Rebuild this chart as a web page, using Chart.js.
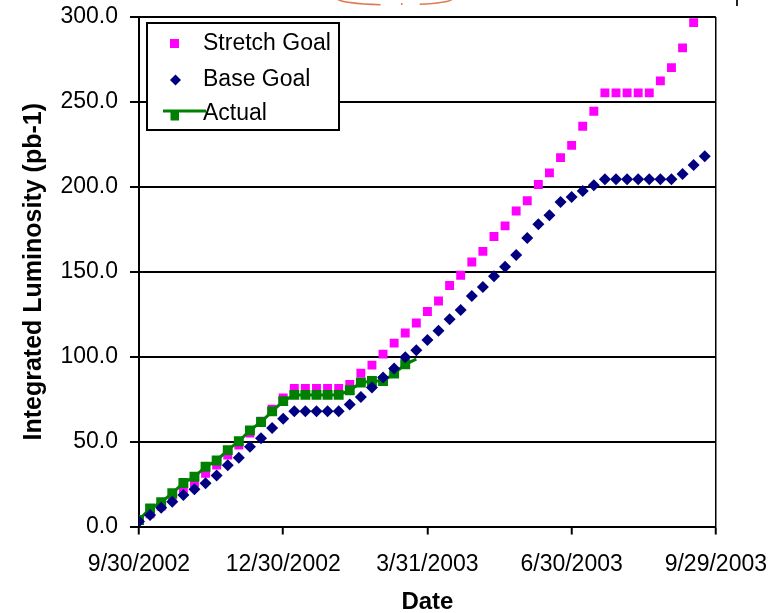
<!DOCTYPE html>
<html>
<head>
<meta charset="utf-8">
<script src="https://cdn.jsdelivr.net/npm/chart.js@4/dist/chart.umd.min.js"></script>
<style>
  html, body { margin: 0; padding: 0; background: #ffffff; }
  #wrap { width: 783px; height: 613px; }
</style>
</head>
<body>
<div id="wrap"><canvas id="c" width="783" height="613"></canvas></div>
<script>
// Weekly reporting dates (Mondays)
const weekDates = [
  '9/30/2002', '10/7/2002', '10/14/2002', '10/21/2002', '10/28/2002', '11/4/2002', '11/11/2002',
  '11/18/2002', '11/25/2002', '12/2/2002', '12/9/2002', '12/16/2002', '12/23/2002', '12/30/2002',
  '1/6/2003', '1/13/2003', '1/20/2003', '1/27/2003', '2/3/2003', '2/10/2003', '2/17/2003',
  '2/24/2003', '3/3/2003', '3/10/2003', '3/17/2003', '3/24/2003', '3/31/2003', '4/7/2003',
  '4/14/2003', '4/21/2003', '4/28/2003', '5/5/2003', '5/12/2003', '5/19/2003', '5/26/2003',
  '6/2/2003', '6/9/2003', '6/16/2003', '6/23/2003', '6/30/2003', '7/7/2003', '7/14/2003',
  '7/21/2003', '7/28/2003', '8/4/2003', '8/11/2003', '8/18/2003', '8/25/2003', '9/1/2003',
  '9/8/2003', '9/15/2003', '9/22/2003'
];

// Integrated luminosity (pb-1), one value per week
const stretchGoal = [
  3.5, 7.5, 12, 16.6, 21.5, 25.8, 31.4, 36.2, 42, 48,
  55, 62, 69, 75.7, 81.3, 81.3, 81.3, 81.3, 81.3, 83.7,
  90.2, 95, 101.5, 108, 113.9, 119.8, 126.6, 132.8, 141.9, 147.9,
  155.7, 162, 170.8, 177, 185.8, 191.8, 201.4, 208.2, 217.2, 224.4,
  235.7, 244.5, 255.3, 255.3, 255.3, 255.3, 255.3, 262.4, 270.2, 281.8,
  296.7
];
const baseGoal = [
  3, 6.8, 11, 14.5, 18.5, 22, 25.4, 30, 36, 40.5,
  47, 52, 58, 63.5, 67.8, 67.8, 67.8, 67.8, 67.8, 71.9,
  76.2, 81.8, 87.7, 93, 99.6, 103.8, 109.8, 115.2, 122, 127.5,
  135.7, 141, 147.4, 152.9, 159.9, 169.9, 178, 183.3, 191, 194,
  197.5, 201, 204.5, 204.5, 204.5, 204.5, 204.5, 204.5, 204.5, 207.5,
  212.8, 218
];
const actual = [
  3.8, 10.7, 14.3, 19.6, 25.6, 29.3, 35.2, 38.9, 45, 50.2,
  56.6, 61.5, 67.8, 73.8, 77.5, 77.5, 77.5, 77.5, 77.5, 80.2,
  84.7, 85.7, 85.7, 90, 95.5, 98.5
];

const tickDates = ['9/30/2002', '12/30/2002', '3/31/2003', '6/30/2003', '9/29/2003'];
const seriesNames = ['Stretch Goal', 'Base Goal', 'Actual'];
const axisTitles = { x: 'Date', y: 'Integrated Luminosity (pb-1)' };

const FONT = "'Liberation Sans', Arial, sans-serif";

// days elapsed since the first week
function toUTC(s) {
  const [m, d, y] = s.split('/').map(Number);
  return Date.UTC(y, m - 1, d);
}
const t0 = toUTC(weekDates[0]);
const dayOf = s => Math.round((toUTC(s) - t0) / 86400000);
const xy = vals => vals.map((v, i) => ({ x: dayOf(weekDates[i]), y: v }));

const tickValues = tickDates.map(dayOf);
const xMax = tickValues[tickValues.length - 1];

// In-plot legend box with marker + label rows
const boxLegend = {
  id: 'boxLegend',
  afterDraw(chart) {
    const ctx = chart.ctx;
    const ds = chart.data.datasets;
    ctx.save();
    ctx.fillStyle = '#ffffff';
    ctx.fillRect(147, 23, 192, 107);
    ctx.strokeStyle = '#000000';
    ctx.lineWidth = 2;
    ctx.strokeRect(147, 23, 192, 107);

    ctx.font = '23px ' + FONT;
    ctx.textBaseline = 'middle';
    ctx.textAlign = 'left';
    const rows = [43.5, 80, 114];
    ds.forEach((d, i) => {
      const y = rows[i];
      ctx.fillStyle = d.pointBackgroundColor;
      if (d.pointStyle === 'rectRot') {
        ctx.beginPath();
        ctx.moveTo(175.5, y - 5.5);
        ctx.lineTo(181, y);
        ctx.lineTo(175.5, y + 5.5);
        ctx.lineTo(170, y);
        ctx.closePath();
        ctx.fill();
      } else if (d.showLine) {
        ctx.strokeStyle = d.borderColor;
        ctx.lineWidth = 3;
        ctx.beginPath();
        ctx.moveTo(163, y - 3);
        ctx.lineTo(206, y - 3);
        ctx.stroke();
        ctx.fillRect(170.5, y - 2, 8.5, 8.5);
      } else {
        ctx.fillRect(170, y - 4.5, 9, 9);
      }
      ctx.fillStyle = '#000000';
      ctx.fillText(d.label, 203, y);
    });
    ctx.restore();
  }
};

// Remnants of the slide header along the top edge
const headerMarks = {
  id: 'headerMarks',
  afterDraw(chart) {
    const ctx = chart.ctx;
    ctx.save();
    ctx.strokeStyle = '#e07a52';
    ctx.lineWidth = 1.5;
    ctx.beginPath();
    ctx.ellipse(395, -1.7, 58, 6.7, 0, Math.PI * 0.58, Math.PI * 0.98);
    ctx.stroke();
    ctx.beginPath();
    ctx.ellipse(395, -1.7, 58, 6.7, 0, Math.PI * 0.02, Math.PI * 0.36);
    ctx.stroke();
    ctx.fillStyle = '#e07a52';
    ctx.fillRect(401, 3, 1.5, 2);
    ctx.strokeStyle = '#222222';
    ctx.lineWidth = 2;
    ctx.beginPath();
    ctx.moveTo(737, 0);
    ctx.lineTo(737, 6);
    ctx.stroke();
    ctx.restore();
  }
};

new Chart(document.getElementById('c'), {
  type: 'scatter',
  data: {
    datasets: [
      {
        label: seriesNames[0],
        data: xy(stretchGoal),
        showLine: false,
        pointStyle: 'rect',
        pointRadius: 6.3,
        pointBorderWidth: 0,
        pointBackgroundColor: '#ff00ff',
        pointBorderColor: '#ff00ff',
        order: 2
      },
      {
        label: seriesNames[1],
        data: xy(baseGoal),
        showLine: false,
        pointStyle: 'rectRot',
        pointRadius: 6,
        pointBorderWidth: 0,
        pointBackgroundColor: '#000080',
        pointBorderColor: '#000080',
        order: 0
      },
      {
        label: seriesNames[2],
        data: xy(actual),
        showLine: true,
        borderColor: '#008000',
        borderWidth: 3,
        tension: 0,
        pointStyle: 'rect',
        pointRadius: ctx => (ctx.dataIndex === actual.length - 1 ? 0 : 7),
        pointBorderWidth: 0,
        pointBackgroundColor: '#008000',
        pointBorderColor: '#008000',
        order: 1
      }
    ]
  },
  options: {
    responsive: false,
    animation: false,
    devicePixelRatio: 1,
    layout: { padding: { top: 17, right: 67, bottom: 0, left: 0 } },
    plugins: {
      legend: { display: false },
      tooltip: { enabled: false }
    },
    scales: {
      x: {
        type: 'linear',
        min: 0,
        max: xMax,
        afterFit: s => { s.height = 86.5; },
        afterBuildTicks: s => { s.ticks = tickValues.map(v => ({ value: v })); },
        ticks: {
          autoSkip: false,
          maxRotation: 0,
          padding: 16,
          color: '#000000',
          font: { family: FONT, size: 23 },
          callback: v => tickDates[tickValues.indexOf(v)]
        },
        grid: {
          color: c => (c.tick && c.tick.value === xMax ? '#000000' : 'rgba(0,0,0,0)'),
          lineWidth: 1.5,
          drawTicks: true,
          tickLength: 8,
          tickColor: '#000000',
          tickWidth: 2
        },
        border: { display: true, color: '#000000', width: 2 },
        title: {
          display: true,
          text: axisTitles.x,
          color: '#000000',
          font: { family: FONT, size: 24, weight: 'bold', lineHeight: 0.85 },
          padding: { top: 0, bottom: 0 }
        }
      },
      y: {
        min: 0,
        max: 300,
        afterFit: s => { s.width = 139; s.paddingTop = 0; s.paddingBottom = 0; },
        ticks: {
          stepSize: 50,
          padding: 12,
          color: '#000000',
          font: { family: FONT, size: 23 },
          callback: v => v.toFixed(1)
        },
        grid: {
          color: '#000000',
          lineWidth: 2,
          drawTicks: true,
          tickLength: 9,
          tickColor: '#000000',
          tickWidth: 2
        },
        border: { display: true, color: '#000000', width: 2 },
        title: {
          display: true,
          text: axisTitles.y,
          color: '#000000',
          font: { family: FONT, size: 25, weight: 'bold', lineHeight: 1 },
          padding: { top: 21.5, bottom: 0 }
        }
      }
    }
  },
  plugins: [boxLegend, headerMarks]
});
</script>
</body>
</html>
